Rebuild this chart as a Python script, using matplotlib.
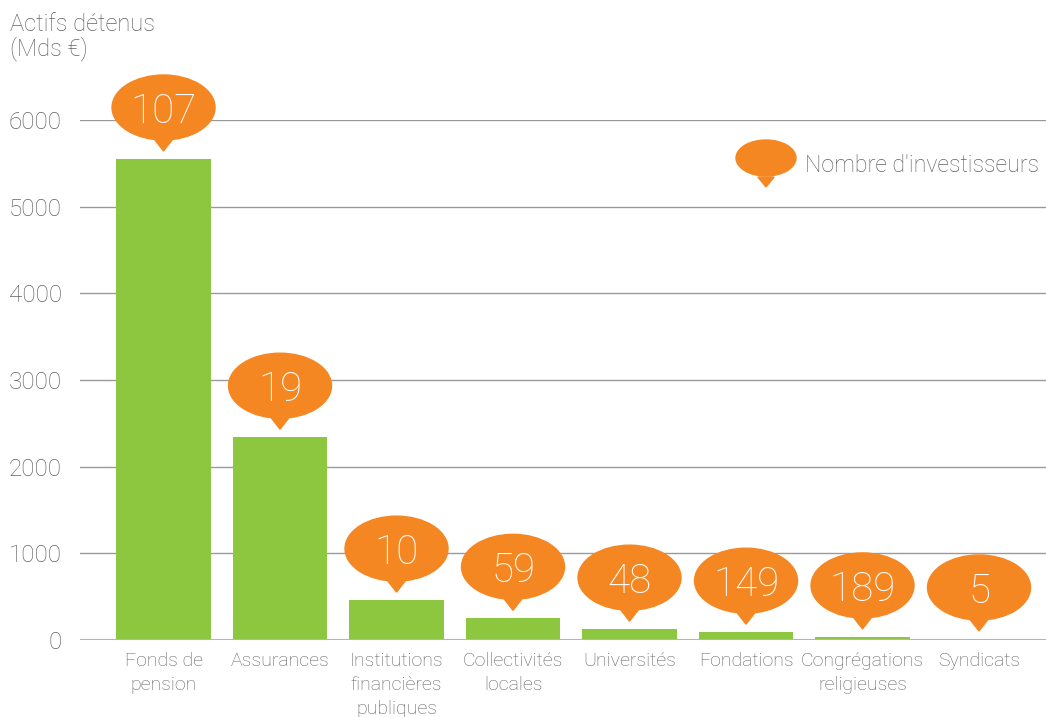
import matplotlib.pyplot as plt
from matplotlib.patches import Ellipse, Polygon
from matplotlib.transforms import ScaledTranslation

# ---- data ----
categories = ["Fonds de\npension", "Assurances", "Institutions\nfinancières\npubliques",
              "Collectivités\nlocales", "Universités", "Fondations",
              "Congrégations\nreligieuses", "Syndicats"]
assets = [5550, 2340, 460, 250, 125, 90, 35, 8]
investors = [107, 19, 10, 59, 48, 149, 189, 5]
yticks = [0, 1000, 2000, 3000, 4000, 5000, 6000]

GREEN = "#8dc63f"
ORANGE = "#f58723"
GREY = "#616265"
FONT = ["Roboto", "DejaVu Sans"]

plt.rcParams["font.family"] = FONT
plt.rcParams["font.weight"] = "light"

W, H = 1046, 717
fig = plt.figure(figsize=(W / 100, H / 100), dpi=100)
ax = fig.add_axes([80 / W, (H - 640) / H, 1 - 80 / W, 520 / H])

x = list(range(len(categories)))
ax.bar(x, assets, width=0.815, color=GREEN, zorder=2)
ax.set_xlim(-0.717, 7.575)
ax.set_ylim(0, 6000)
ax.set_yticks(yticks)
ax.set_yticklabels([str(v) for v in yticks], fontsize=17.5, color=GREY)
ax.set_xticks(x)
ax.set_xticklabels(categories, fontsize=14, color=GREY, linespacing=1.4)
ax.tick_params(axis="y", length=0, pad=13)
ax.tick_params(axis="x", length=0, pad=9)
ax.grid(axis="y", color="#9a9a9a", lw=1, zorder=0)
for s in ax.spines.values():
    s.set_visible(False)
ax.axhline(0, color="#b5b5b5", lw=1.5, zorder=3)


# ---- bubbles ----
def bubble(trans, w, h, gap, label=None, size=29):
    # w, h, gap in pixels; tip of pointer at origin of trans
    cy = (gap + 11 + h / 2) / 100
    ax.add_artist(Ellipse((0, cy), w / 100, h / 100, transform=trans,
                          color=ORANGE, clip_on=False, zorder=5))
    hw = 0.14 * w / 103
    ax.add_artist(Polygon([(-hw, (gap + 18 * h / 65) / 100), (hw, (gap + 18 * h / 65) / 100),
                           (0, gap / 100)], closed=True, transform=trans,
                          color=ORANGE, clip_on=False, zorder=5))
    if label is not None:
        ax.text(0, cy, label, transform=trans, ha="center", va="center_baseline",
                fontsize=size, color="white", zorder=6)


px_per_unit = 520 / 6000
for xi, a, n in zip(x, assets, investors):
    top_px = a * px_per_unit
    gap = max(8, 9 - top_px)
    trans = fig.dpi_scale_trans + ScaledTranslation(xi, a, ax.transData)
    bubble(trans, 103, 65, gap, str(n))

# legend
ltrans = fig.dpi_scale_trans + ScaledTranslation(766 / W, (H - 187) / H, fig.transFigure)
bubble(ltrans, 60, 36, 0)
fig.text(805 / W, (H - 165) / H, "Nombre d'investisseurs", fontsize=16.7, color=GREY,
         ha="left", va="center")

fig.text(10 / W, (H - 13) / H, "Actifs détenus\n(Mds €)", fontsize=17, color=GREY,
         ha="left", va="top", linespacing=1.0)

fig.savefig("out.png", dpi=100)
